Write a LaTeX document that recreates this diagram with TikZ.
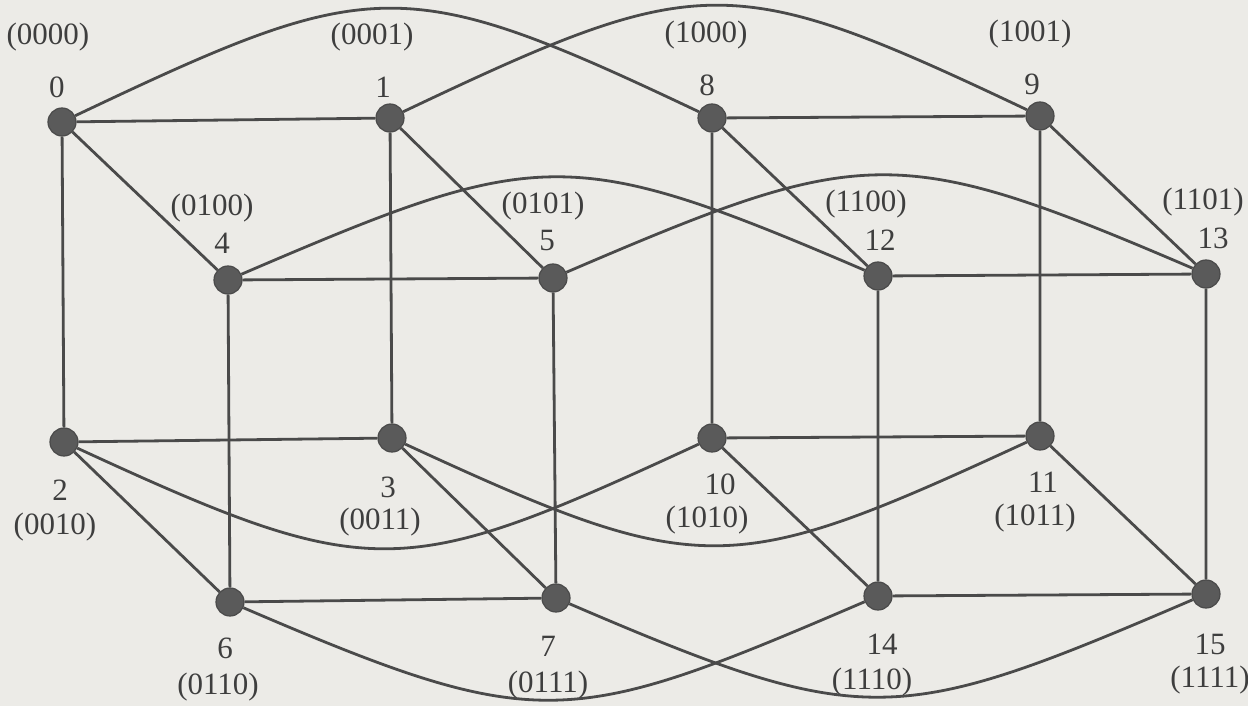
\documentclass[tikz,border=0pt]{standalone}
\usepackage{fontspec}
\setmainfont{Liberation Serif}
\definecolor{paper}{HTML}{ECEBE7}
\definecolor{ink}{HTML}{4A4A4A}
\definecolor{dot}{HTML}{5A5A5A}
\definecolor{txt}{HTML}{3E3E3E}
\tikzset{
  vtx/.style={circle, fill=dot, draw=ink, line width=0.6pt, minimum size=14pt, inner sep=0pt},
  num/.style={font=\fontsize{15.5}{18}\selectfont, text=txt, inner sep=0pt},
  edge/.style={draw=ink, line width=1.4pt},
}
\begin{document}
\begin{tikzpicture}[x=0.5pt, y=-0.5pt]
\fill[paper] (0,0) rectangle (1248,706);
\useasboundingbox (0,0) rectangle (1248,706);

% vertices of the 4-cube
\node[vtx] (n0)  at (62,122)  {};
\node[vtx] (n1)  at (390,118) {};
\node[vtx] (n8)  at (712,118) {};
\node[vtx] (n9)  at (1040,116) {};
\node[vtx] (n4)  at (228,280) {};
\node[vtx] (n5)  at (553,278) {};
\node[vtx] (n12) at (878,276) {};
\node[vtx] (n13) at (1206,274) {};
\node[vtx] (n2)  at (64,442)  {};
\node[vtx] (n3)  at (392,438) {};
\node[vtx] (n10) at (712,438) {};
\node[vtx] (n11) at (1040,436) {};
\node[vtx] (n6)  at (230,602) {};
\node[vtx] (n7)  at (556,598) {};
\node[vtx] (n14) at (878,596) {};
\node[vtx] (n15) at (1206,594) {};

% labels: decimal index and binary address
\node[num] (l0)  at (57,87)   {0};     \node[num] (b0)  at (48,37)   {(0000)};
\node[num] (l1)  at (383,87)  {1};     \node[num] (b1)  at (372,37)  {(0001)};
\node[num] (l8)  at (707,85)  {8};     \node[num] (b8)  at (706,35)  {(1000)};
\node[num] (l9)  at (1032,84) {9};     \node[num] (b9)  at (1030,34) {(1001)};
\node[num] (l4)  at (222,243) {4};     \node[num] (b4)  at (212,208) {(0100)};
\node[num] (l5)  at (547,241) {5};     \node[num] (b5)  at (543,206) {(0101)};
\node[num] (l12) at (880,240) {12};    \node[num] (b12) at (866,204) {(1100)};
\node[num] (l13) at (1213,238) {13};   \node[num] (b13) at (1203,202) {(1101)};
\node[num] (l2)  at (60,490)  {2};     \node[num] (b2)  at (55,527)  {(0010)};
\node[num] (l3)  at (388,487) {3};     \node[num] (b3)  at (380,522) {(0011)};
\node[num] (l10) at (720,484) {10};    \node[num] (b10) at (707,520) {(1010)};
\node[num] (l11) at (1043,482) {11};   \node[num] (b11) at (1035,518) {(1011)};
\node[num] (l6)  at (225,648) {6};     \node[num] (b6)  at (218,687) {(0110)};
\node[num] (l7)  at (548,646) {7};     \node[num] (b7)  at (548,685) {(0111)};
\node[num] (l14) at (882,644) {14};    \node[num] (b14) at (872,682) {(1110)};
\node[num] (l15) at (1210,644) {15};   \node[num] (b15) at (1210,680) {(1111)};

% bit 0: horizontal edges
\path[edge] (n0) -- (n1) (n2) -- (n3) (n4) -- (n5) (n6) -- (n7)
            (n8) -- (n9) (n10) -- (n11) (n12) -- (n13) (n14) -- (n15);
% bit 1: vertical edges
\path[edge] (n0) -- (n2) (n1) -- (n3) (n4) -- (n6) (n5) -- (n7)
            (n8) -- (n10) (n9) -- (n11) (n12) -- (n14) (n13) -- (n15);
% bit 2: diagonal edges
\path[edge] (n0) -- (n4) (n1) -- (n5) (n2) -- (n6) (n3) -- (n7)
            (n8) -- (n12) (n9) -- (n13) (n10) -- (n14) (n11) -- (n15);
% bit 3: arcs joining the two 3-cubes
\path[edge] (n0) .. controls +(310,-147) and +(-310,-147) .. (n8);
\path[edge] (n1) .. controls +(310,-147) and +(-310,-147) .. (n9);
\path[edge] (n4) .. controls +(310,-133) and +(-310,-133) .. (n12);
\path[edge] (n5) .. controls +(310,-133) and +(-310,-133) .. (n13);
\path[edge] (n2) .. controls +(310,143) and +(-310,143) .. (n10);
\path[edge] (n3) .. controls +(310,143) and +(-310,143) .. (n11);
\path[edge] (n6) .. controls +(310,133) and +(-310,133) .. (n14);
\path[edge] (n7) .. controls +(310,133) and +(-310,133) .. (n15);
\end{tikzpicture}
\end{document}
